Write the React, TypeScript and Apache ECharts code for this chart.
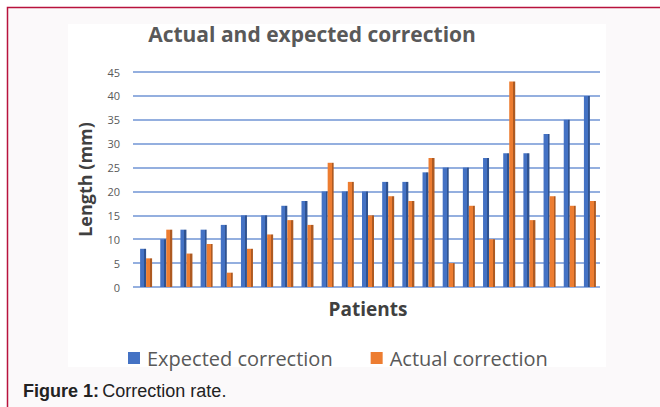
import React, { useEffect, useRef } from "react";
import * as echarts from "echarts";

const patients = Array.from({ length: 23 }, (_, i) => `P${i + 1}`);
const expectedCorrection = [8, 10, 12, 12, 13, 15, 15, 17, 18, 20, 20, 20, 22, 22, 24, 25, 25, 27, 28, 28, 32, 35, 40];
const actualCorrection = [6, 12, 7, 9, 3, 8, 11, 14, 13, 26, 22, 15, 19, 18, 27, 5, 17, 10, 43, 14, 19, 17, 18];
const seriesNames = ["Expected correction", "Actual correction"];
const seriesColors = ["#4472c4", "#ed7d31"];
const sideColors = ["#2f528f", "#ae5a21"];

function sideGradient(front: string, side: string) {
  return new echarts.graphic.LinearGradient(0, 0, 1, 0, [
    { offset: 0, color: front },
    { offset: 0.66, color: front },
    { offset: 0.66, color: side },
    { offset: 1, color: side },
  ]);
}

export default function App() {
  const ref = useRef<HTMLDivElement>(null);
  useEffect(() => {
    if (!ref.current) return;
    const chart = echarts.init(ref.current, null, { renderer: "svg" });
    const gridColor = "#7094d5";
    chart.setOption({
      animation: false,
      backgroundColor: "#ffffff",
      title: {
        text: "Actual and expected correction",
        left: 307,
        top: 18,
        textAlign: "center",
        textStyle: { fontFamily: "Open Sans", fontWeight: "bold", fontSize: 21, color: "#595959" },
      },
      graphic: [
        {
          type: "rect",
          z: -10,
          silent: true,
          shape: { x: 7.5, y: 7.5, width: 700, height: 450 },
          style: { fill: "#fbf9fa", stroke: "#b8123c", lineWidth: 1.5 },
        },
        {
          type: "rect",
          z: -9,
          silent: true,
          shape: { x: 68, y: 24, width: 538, height: 343 },
          style: { fill: "#ffffff" },
        },
        {
          type: "text",
          left: 23,
          top: 382,
          style: {
            text: "{b|Figure 1:} {r|Correction rate.}",
            rich: {
              b: { fontFamily: "Liberation Sans", fontWeight: "bold", fontSize: 18, fill: "#222222" },
              r: { fontFamily: "Liberation Sans", fontSize: 18, fill: "#222222" },
            },
          },
        },
      ],
      legend: {
        left: 128,
        top: 348,
        padding: 0,
        itemWidth: 12,
        itemHeight: 12,
        itemGap: 38,
        icon: "rect",
        textStyle: { fontFamily: "Open Sans", fontSize: 20, color: "#595959", padding: [0, 0, 0, 2] },
        data: seriesNames.map((n, i) => ({ name: n, itemStyle: { color: seriesColors[i] } })),
      },
      grid: { left: 136, right: 60, top: 72, bottom: 120 },
      xAxis: {
        type: "category",
        data: patients,
        name: "Patients",
        nameLocation: "middle",
        nameGap: 12,
        nameTextStyle: { fontFamily: "Open Sans", fontWeight: "bold", fontSize: 19, color: "#404040" },
        axisLine: { show: false },
        axisTick: { show: false },
        axisLabel: { show: false },
      },
      yAxis: {
        type: "value",
        min: 0,
        max: 45,
        interval: 5,
        name: "Length (mm)",
        nameLocation: "middle",
        nameRotate: 90,
        nameGap: 42,
        nameTextStyle: { fontFamily: "Open Sans", fontWeight: "bold", fontSize: 18, color: "#404040" },
        axisLine: { show: false },
        axisTick: { show: true, length: 3, lineStyle: { color: gridColor, width: 1.5 } },
        axisLabel: { fontFamily: "Open Sans", fontSize: 11, color: "#595959", margin: 16 },
        splitLine: { lineStyle: { color: gridColor, width: 1.6 } },
      },
      series: [
        {
          name: seriesNames[0],
          type: "bar",
          data: expectedCorrection,
          barWidth: 6,
          barGap: "0%",
          itemStyle: { color: sideGradient(seriesColors[0], sideColors[0]) },
        },
        {
          name: seriesNames[1],
          type: "bar",
          data: actualCorrection,
          barWidth: 6,
          barGap: "0%",
          itemStyle: { color: sideGradient(seriesColors[1], sideColors[1]) },
        },
      ],
    });
    return () => chart.dispose();
  }, []);
  return <div ref={ref} style={{ position: "absolute", left: 0, top: 0, width: 660, height: 407 }} />;
}
